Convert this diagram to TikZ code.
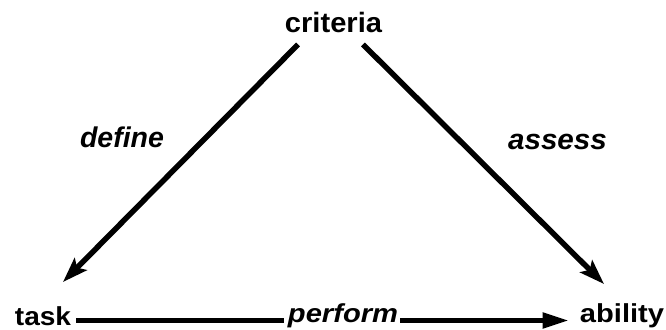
\documentclass[tikz,border=0pt]{standalone}
\usepackage{fontspec}
\setmainfont{Liberation Sans}
\usetikzlibrary{arrows.meta}
\begin{document}
\begin{tikzpicture}[x=1pt,y=1pt,
  toplbl/.style={inner sep=0pt, anchor=base, font=\fontsize{28}{30}\selectfont\bfseries},
  itlbl/.style={inner sep=0pt, anchor=base, font=\fontsize{28.5}{30}\selectfont\bfseries\itshape},
  botlbl/.style={inner sep=0pt, anchor=base, font=\fontsize{26}{28}\selectfont\bfseries},
  botit/.style={inner sep=0pt, anchor=base, font=\fontsize{26}{28}\selectfont\bfseries\itshape},
  conn/.style={line width=5.5pt, -{Stealth[length=25pt,width=17pt,inset=5pt]}},
  hline/.style={line width=5pt}]
\useasboundingbox (0,0) rectangle (666,329);
\node[toplbl] (criteria) at (333.5,296) {\scalebox{1.04}[1]{criteria}};
\node[itlbl] (define) at (122,181) {\scalebox{1.0}[1]{define}};
\node[itlbl] (assess) at (557.5,179) {\scalebox{1.04}[1]{assess}};
\node[botlbl] (task) at (43,4) {\scalebox{1.08}[1]{task}};
\node[botit] (perform) at (343,6) {\scalebox{1.12}[1]{perform}};
\node[botlbl] (ability) at (622,6) {\scalebox{1.12}[1]{ability}};
\coordinate (hl) at (0,8.5);
\coordinate (tasktip) at (63,47);
\coordinate (abilitytip) at (604,45);
\draw[conn] ([xshift=-35.5pt,yshift=-11pt]criteria.south) -- (tasktip);
\draw[conn] ([xshift=29.5pt,yshift=-11pt]criteria.south) -- (abilitytip);
\draw[hline, shorten <=5pt, shorten >=4pt] (task.east |- hl) -- (perform.west |- hl);
\draw[hline, -{Triangle[length=26pt,width=15pt]}, shorten <=2pt, shorten >=11pt] (perform.east |- hl) -- (ability.west |- hl);
\end{tikzpicture}
\end{document}
